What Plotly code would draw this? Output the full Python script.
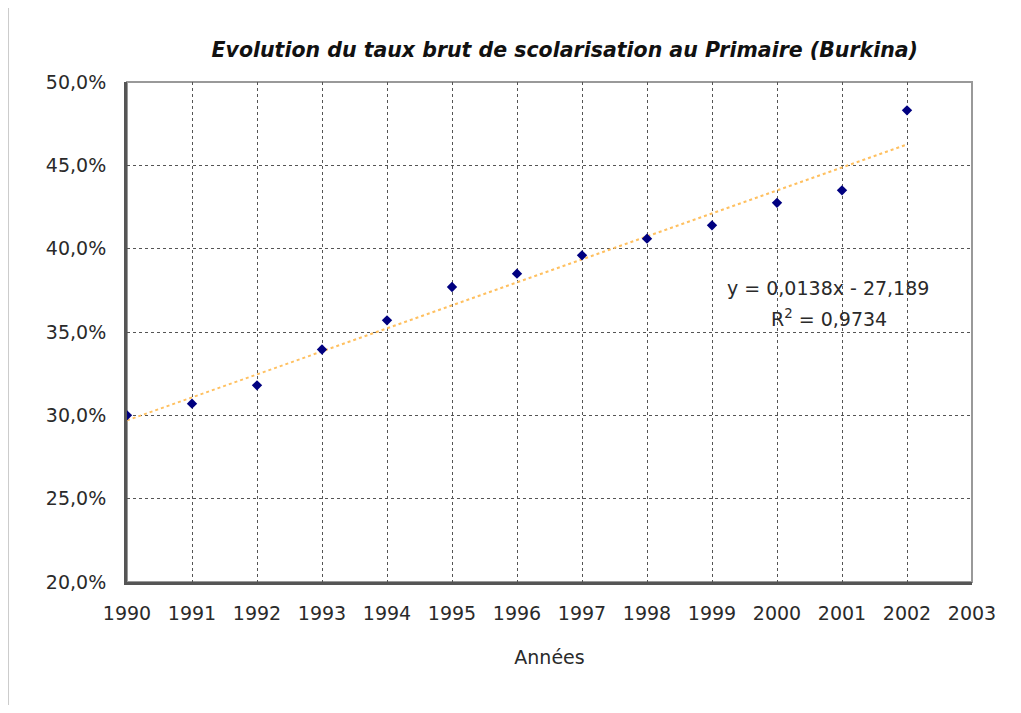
import plotly.graph_objects as go

annees = [1990, 1991, 1992, 1993, 1994, 1995, 1996, 1997, 1998, 1999, 2000, 2001, 2002]
taux = [0.300, 0.307, 0.318, 0.3395, 0.357, 0.377, 0.385, 0.396, 0.406, 0.414, 0.4275, 0.435, 0.483]

# tendance lineaire (extremites)
trend_x = [1990, 2002]
trend_y = [0.297, 0.4625]

x_ticks = list(range(1990, 2004))
y_ticks = [0.20, 0.25, 0.30, 0.35, 0.40, 0.45, 0.50]

font = 'DejaVu Sans, Arial, sans-serif'

points = go.Scatter(x=annees, y=taux, mode='markers',
                    marker={'symbol': 'diamond', 'size': 8, 'color': '#000080'})
tendance = go.Scatter(x=trend_x, y=trend_y, mode='lines',
                      line={'color': '#FFC060', 'width': 2, 'dash': 'dot'})

fig = go.Figure(data=[tendance, points])
# la page ajoute 8px de marge autour du graphique
fig.update_layout(
    width=1005, height=697,
    margin={'l': 119, 'r': 41, 't': 74, 'b': 123},
    paper_bgcolor='white', plot_bgcolor='white',
    showlegend=False,
    separators=', ',
    font={'family': font, 'size': 19, 'color': '#2a2a2a'},
    title={'text': '<b><i>Evolution du taux brut de scolarisation au Primaire (Burkina)</i></b>',
           'x': 0.554, 'xanchor': 'center', 'y': 0.94, 'yanchor': 'middle',
           'font': {'size': 20.5, 'color': '#111111'}},
)
fig.update_xaxes(range=[1990, 2003], tickvals=x_ticks, ticks='', ticklen=0,
                 ticklabelstandoff=12,
                 showgrid=True, gridcolor='#555555', griddash='dot', gridwidth=1,
                 showline=True, linecolor='#555555', linewidth=3,
                 zeroline=False,
                 title={'text': 'Années', 'standoff': 28, 'font': {'size': 19}})
fig.update_yaxes(range=[0.20, 0.50], tickvals=y_ticks, tickformat='.1%',
                 ticklabelstandoff=14,
                 showgrid=True, gridcolor='#555555', griddash='dot', gridwidth=1,
                 showline=True, linecolor='#555555', linewidth=3,
                 zeroline=False, ticks='', ticklen=0)
# bordure haut/droite grise
fig.add_shape(type='rect', xref='paper', yref='paper', x0=0, x1=1, y0=0, y1=1,
              line={'color': '#999999', 'width': 2}, layer='below')
fig.add_shape(type='line', xref='paper', yref='paper', x0=-0.1408, x1=-0.1408, y0=-0.25, y1=1.15,
              line={'color': '#CCCCCC', 'width': 2})
fig.add_annotation(x=2000.78, y=0.3764, xref='x', yref='y',
                   text='y = 0,0138x - 27,189',
                   showarrow=False, font={'size': 19, 'color': '#2a2a2a'})
fig.add_annotation(x=2000.8, y=0.3584, xref='x', yref='y',
                   text='R<sup>2</sup> = 0,9734',
                   showarrow=False, font={'size': 19, 'color': '#2a2a2a'})
fig.write_html("out.html")
